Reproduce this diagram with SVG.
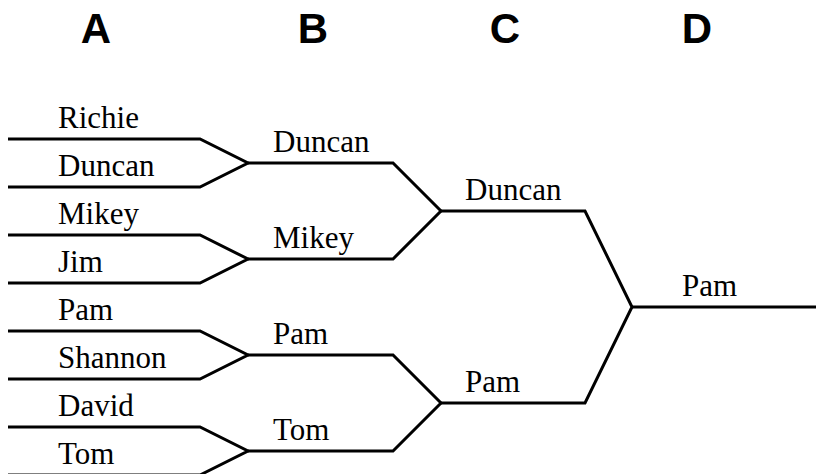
<svg xmlns="http://www.w3.org/2000/svg" width="816" height="474" viewBox="0 0 816 474">
<style>
.h{font-family:"Liberation Sans",Arial,sans-serif;font-weight:bold;font-size:42px;text-anchor:middle;fill:#000}
.t{font-family:"Liberation Serif","Times New Roman",serif;font-size:31px;fill:#000}
.l{fill:none;stroke:#000;stroke-width:3;stroke-linejoin:miter}
</style>
<rect width="816" height="474" fill="#fff"/>
<g id="headers">
<text class="h" x="96" y="43">A</text>
<text class="h" x="313" y="43">B</text>
<text class="h" x="505" y="43">C</text>
<text class="h" x="697" y="43">D</text>
</g>
<g id="connectors">
<polyline class="l" points="8,139 200,139 248,163 200,187 8,187"/>
<polyline class="l" points="8,235 200,235 248,259 200,283 8,283"/>
<polyline class="l" points="8,331 200,331 248,355 200,379 8,379"/>
<polyline class="l" points="8,427 200,427 248,451 200,475 8,475"/>
<polyline class="l" points="248,163 393,163 441,211 393,259 248,259"/>
<polyline class="l" points="248,355 393,355 441,403 393,451 248,451"/>
<polyline class="l" points="441,211 585,211 632,307 585,403 441,403"/>
<line class="l" x1="632" y1="307" x2="816" y2="307"/>
</g>
<g id="n-a1"><text class="t" x="58" y="128">Richie</text></g>
<g id="n-a2"><text class="t" x="58" y="176">Duncan</text></g>
<g id="n-a3"><text class="t" x="58" y="224">Mikey</text></g>
<g id="n-a4"><text class="t" x="58" y="272">Jim</text></g>
<g id="n-a5"><text class="t" x="58" y="320">Pam</text></g>
<g id="n-a6"><text class="t" x="58" y="368">Shannon</text></g>
<g id="n-a7"><text class="t" x="58" y="416">David</text></g>
<g id="n-a8"><text class="t" x="58" y="464">Tom</text></g>
<g id="n-b1"><text class="t" x="273" y="152">Duncan</text></g>
<g id="n-b2"><text class="t" x="273" y="248">Mikey</text></g>
<g id="n-b3"><text class="t" x="273" y="344">Pam</text></g>
<g id="n-b4"><text class="t" x="273" y="440">Tom</text></g>
<g id="n-c1"><text class="t" x="465" y="200">Duncan</text></g>
<g id="n-c2"><text class="t" x="465" y="392">Pam</text></g>
<g id="n-d1"><text class="t" x="682" y="296">Pam</text></g>
</svg>
